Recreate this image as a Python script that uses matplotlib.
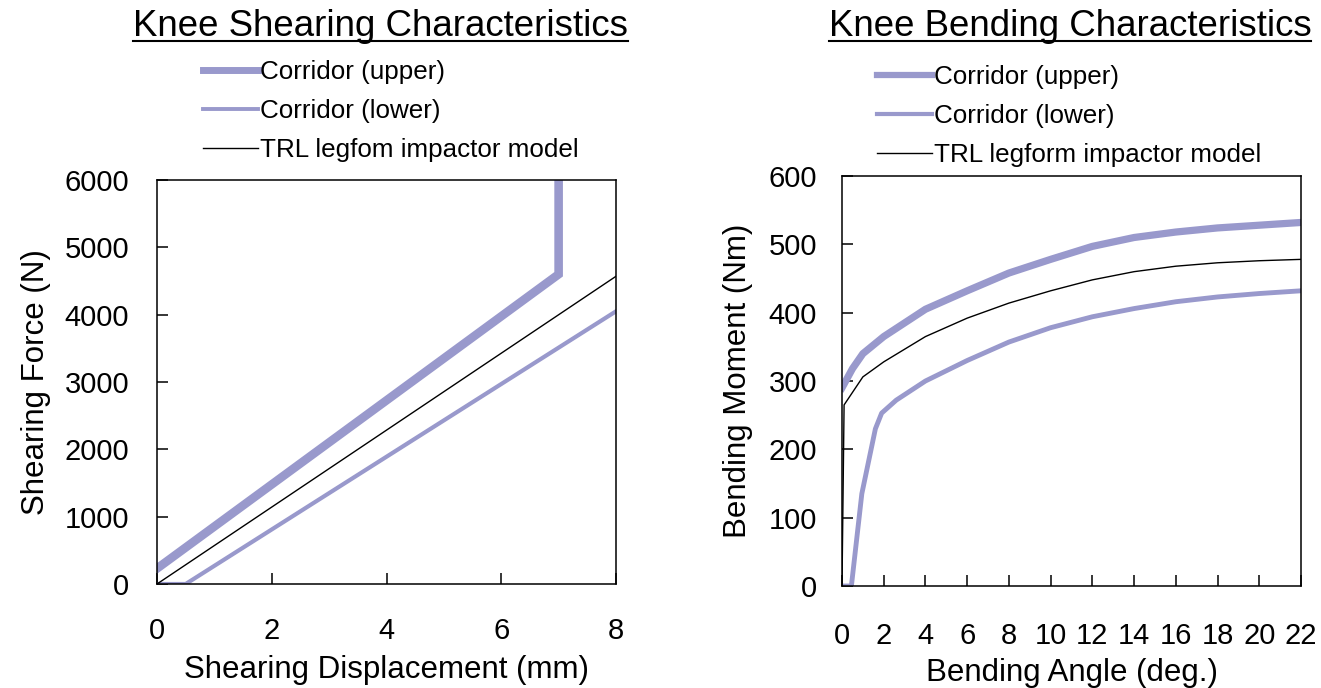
import matplotlib
matplotlib.use("Agg")
import matplotlib.pyplot as plt
from matplotlib.lines import Line2D

plt.rcParams['font.family'] = ['Liberation Sans', 'DejaVu Sans']

# ---- Knee shearing data (displacement mm, force N) ----
shear_upper_x = [0, 7, 7]
shear_upper_y = [230, 4600, 6200]
shear_lower_x = [0, 0.5, 8]
shear_lower_y = [0, 0, 4050]
shear_trl_x = [0, 8]
shear_trl_y = [0, 4570]

# ---- Knee bending data (angle deg, moment Nm) ----
bend_upper_x = [0, 0.5, 1, 2, 3, 4, 6, 8, 10, 12, 14, 16, 18, 20, 22]
bend_upper_y = [290, 318, 340, 365, 385, 405, 432, 458, 478, 497, 510, 518, 524, 528, 532]
bend_lower_x = [0, 0.45, 0.95, 1.6, 1.9, 2.6, 4, 6, 8, 10, 12, 14, 16, 18, 20, 22]
bend_lower_y = [0, 0, 135, 230, 253, 272, 300, 330, 357, 378, 394, 406, 416, 423, 428, 432]
bend_trl_x = [0, 0.1, 1, 2, 4, 6, 8, 10, 12, 14, 16, 18, 20, 22]
bend_trl_y = [0, 265, 306, 328, 365, 392, 414, 432, 448, 460, 468, 473, 476, 478]

shear_xticks = [0, 2, 4, 6, 8]
shear_yticks = [0, 1000, 2000, 3000, 4000, 5000, 6000]
bend_xticks = list(range(0, 23, 2))
bend_yticks = list(range(0, 601, 100))

labels = ["Corridor (upper)", "Corridor (lower)"]
trl_labels = ["TRL legfom impactor model", "TRL legform impactor model"]

PURPLE = '#9999cc'
W, H = 1321, 688
fig = plt.figure(figsize=(W / 100, H / 100), dpi=100)

ax1 = fig.add_axes([157 / W, 1 - 584 / H, 459 / W, 404 / H])
ax2 = fig.add_axes([842 / W, 1 - 586 / H, 459 / W, 410 / H])

ax1.plot(shear_upper_x, shear_upper_y, color=PURPLE, lw=6.2, solid_joinstyle='miter')
ax1.plot(shear_lower_x, shear_lower_y, color=PURPLE, lw=3.0)
ax1.plot(shear_trl_x, shear_trl_y, color='black', lw=1.0)

ax2.plot(bend_upper_x, bend_upper_y, color=PURPLE, lw=5.2)
ax2.plot(bend_lower_x, bend_lower_y, color=PURPLE, lw=3.5)
ax2.plot(bend_trl_x, bend_trl_y, color='black', lw=1.0)

ax1.set_xlim(0, 8)
ax1.set_ylim(0, 6000)
ax1.set_xticks(shear_xticks)
ax1.set_yticks(shear_yticks)
ax2.set_xlim(0, 22)
ax2.set_ylim(0, 600)
ax2.set_xticks(bend_xticks)
ax2.set_yticks(bend_yticks)

for ax, xpad, ypad in ((ax1, 24, 20), (ax2, 26, 18)):
    for sp in ax.spines.values():
        sp.set_linewidth(1.1)
    ax.tick_params(axis='x', direction='in', length=8, width=1.1, pad=xpad, labelsize=21)
    ax.tick_params(axis='y', direction='in', length=8, width=1.1, pad=ypad, labelsize=21)

ax1.set_xlabel("Shearing Displacement (mm)", fontsize=22.5, labelpad=7)
ax1.set_ylabel("Shearing Force (N)", fontsize=22.5, labelpad=10)
ax2.set_xlabel("Bending Angle (deg.)", fontsize=22.5, labelpad=6)
ax2.set_ylabel("Bending Moment (Nm)", fontsize=22.5, labelpad=11)

# Legends above each plot
for ax, x0, top, lws, trl in ((ax1, 203, 60, (5.0, 2.8), trl_labels[0]),
                              (ax2, 877, 65, (4.5, 3.0), trl_labels[1])):
    handles = [Line2D([], [], color=PURPLE, lw=lws[0]),
               Line2D([], [], color=PURPLE, lw=lws[1]),
               Line2D([], [], color='black', lw=1.0)]
    fig.legend(handles, labels + [trl], loc='upper left',
               bbox_to_anchor=(x0 / W, 1 - top / H), bbox_transform=fig.transFigure,
               frameon=False, fontsize=18.7, borderpad=0, borderaxespad=0,
               handlelength=2.1, handletextpad=0.1, labelspacing=0.57)

# Underlined titles
titles = [("Knee Shearing Characteristics", 380), ("Knee Bending Characteristics", 1070)]
title_objs = []
for txt, xc in titles:
    t = fig.text(xc / W, 1 - 36 / H, txt, fontsize=26.4, ha='center', va='baseline')
    title_objs.append(t)

fig.canvas.draw()
inv = fig.transFigure.inverted()
for t in title_objs:
    bb = t.get_window_extent()
    (xa, _), (xb, _) = inv.transform([(bb.x0, 0), (bb.x1, 0)])
    yline = 1 - 41 / H
    fig.add_artist(Line2D([xa, xb], [yline, yline], transform=fig.transFigure,
                          color='black', lw=1.5))

fig.savefig("out.png", dpi=100)
